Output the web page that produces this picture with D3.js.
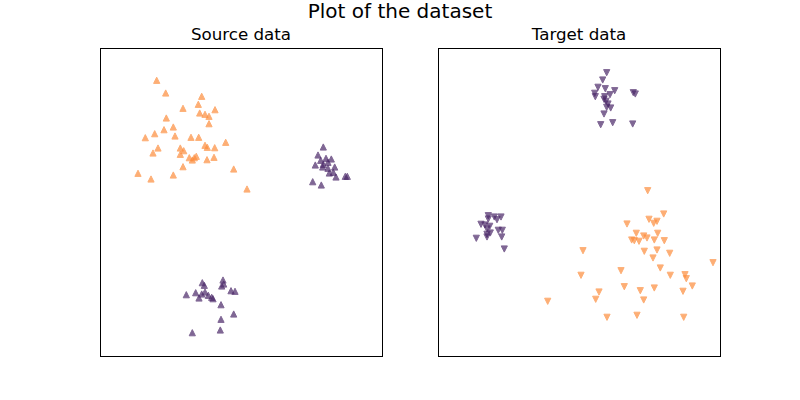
<!DOCTYPE html>
<html><head><meta charset="utf-8">
<script src="https://cdn.jsdelivr.net/npm/d3@7"></script>
<style>body{margin:0;background:#fff}svg{display:block}text{font-family:"DejaVu Sans",sans-serif}</style>
</head><body>
<svg id="c" width="800" height="400"></svg>
<script>
// Source data, class A (orange)
const srcAX=[56.7,65.7,101.7,83,98.3,115,99.7,105,109,66.3,109,73.3,64,54.7,45.3,75,91,98.7,125.7,105,107.3,114.7,58,80.3,83.7,53,80.3,89.3,96.3,94.3,92.3,114,107,83,133.7,38,73.3,51,147];
const srcAY=[275.7,263,259.7,247.7,251.7,246.3,243,241.7,239.7,238,232.3,229,226.3,222.3,218.3,220,218.7,218.7,213.7,210.7,208.7,208.3,208,208,205.3,203,201.7,198.3,199.7,198.3,196,198.7,196.3,189.3,187,182.7,181,177,167];
// Source data, class B (purple)
const srcBX=[223.3,218,226,231.3,220.7,215.3,223.3,228,222.7,234.7,228,233.3,229.3,236,245.3,247.3,212.7,221.3,
  123,102.3,123.7,104.3,121.7,131,135,95.7,105,101.7,86.3,108.3,111.7,99,113,121,133.7,121,120.3,92.3];
const srcBY=[209,201,197.7,197,195.7,191,191.7,193.7,189,189,187.7,183.7,183,179,179.7,179.7,174.3,171,
  76,73.3,72,70.7,70,65.3,64.7,63.3,64,62,61.3,60.7,58.7,58,57.3,51.3,42,36.7,26,23.3];
// Target data, class A (orange)
const tgtAX=[189,145,183,143,186.3,161,157.7,109.7,169,209.7,225.7,211,219,215.7,198.3,219.7,205.7,209,193.7,196.3,201,216.3,226.3,206.3,219,231.7,215,275,222.3,232.3,247,248.3,254.3,216.3,202.3,245,205.7,199,245.7];
const tgtAY=[132,105.3,85.3,80.7,69.3,64,56.7,54.7,38.7,165.3,142,136.7,134.7,132.7,122.7,122.7,120,118,116,115.3,114.7,116,115.3,104.7,106,102.7,98,93.3,88,80.7,81.3,77.3,70,68,65.3,64.7,56,40.7,38.7];
// Target data, class B (purple)
const tgtBX=[168.7,164.7,160,167.3,176.7,156.7,172,195.3,197.3,166.7,157.3,166,168,168.7,172.7,166,174.7,162.7,194.7,170,
  50.3,56.3,63,50.3,59,43,47,51.7,49,60.3,64.3,52.3,49,63.7,38.3,66.3,49];
const tgtBY=[283.3,276,268.7,267.3,265.3,262.7,261.3,263.3,262,259.3,259.3,256.7,254.7,248.7,248,242,233.3,231.3,232,252,
  140.3,139,139,137,136.3,131.7,131,129.7,127,125.7,125.7,123,119,119,117.7,107,121.7];
const panelTitles=["Source data","Target data"];
const mainTitle="Plot of the dataset";
const colA="#fd8d3c", colB="#4a2768";

const svg=d3.select("#c");
const W=282,H=308,panelTop=48;
const lefts=[100,438];
const xDom=[0,282], yDom=[0,308];
svg.append("text").attr("x",400).attr("y",18).attr("text-anchor","middle").attr("font-size","20px").text(mainTitle);

function tri(up,h){return up?`M0,${-h}L${h},${h}L${-h},${h}Z`:`M0,${h}L${h},${-h}L${-h},${-h}Z`;}

const panels=[
  {sets:[[srcAX,srcAY,colA],[srcBX,srcBY,colB]],up:true},
  {sets:[[tgtAX,tgtAY,colA],[tgtBX,tgtBY,colB]],up:false}
];
panels.forEach((p,i)=>{
  const x=d3.scaleLinear().domain(xDom).range([lefts[i],lefts[i]+W]);
  const y=d3.scaleLinear().domain(yDom).range([panelTop+H,panelTop]);
  const g=svg.append("g");
  p.sets.forEach(([xs,ys,c])=>{
    const pts=xs.map((v,k)=>[v,ys[k]]);
    g.selectAll(null).data(pts).enter().append("path")
      .attr("d",tri(p.up,3.1))
      .attr("transform",d=>`translate(${x(d[0])},${y(d[1])})`)
      .attr("fill",c).attr("stroke",c).attr("stroke-width",1).attr("opacity",0.7);
  });
  svg.append("rect").attr("x",lefts[i]+0.5).attr("y",panelTop+0.5).attr("width",W).attr("height",H)
    .attr("fill","none").attr("stroke","#000").attr("stroke-width",1);
  svg.append("text").attr("x",lefts[i]+W/2).attr("y",40).attr("text-anchor","middle").attr("font-size","16.7px").text(panelTitles[i]);
});
</script>
</body></html>
